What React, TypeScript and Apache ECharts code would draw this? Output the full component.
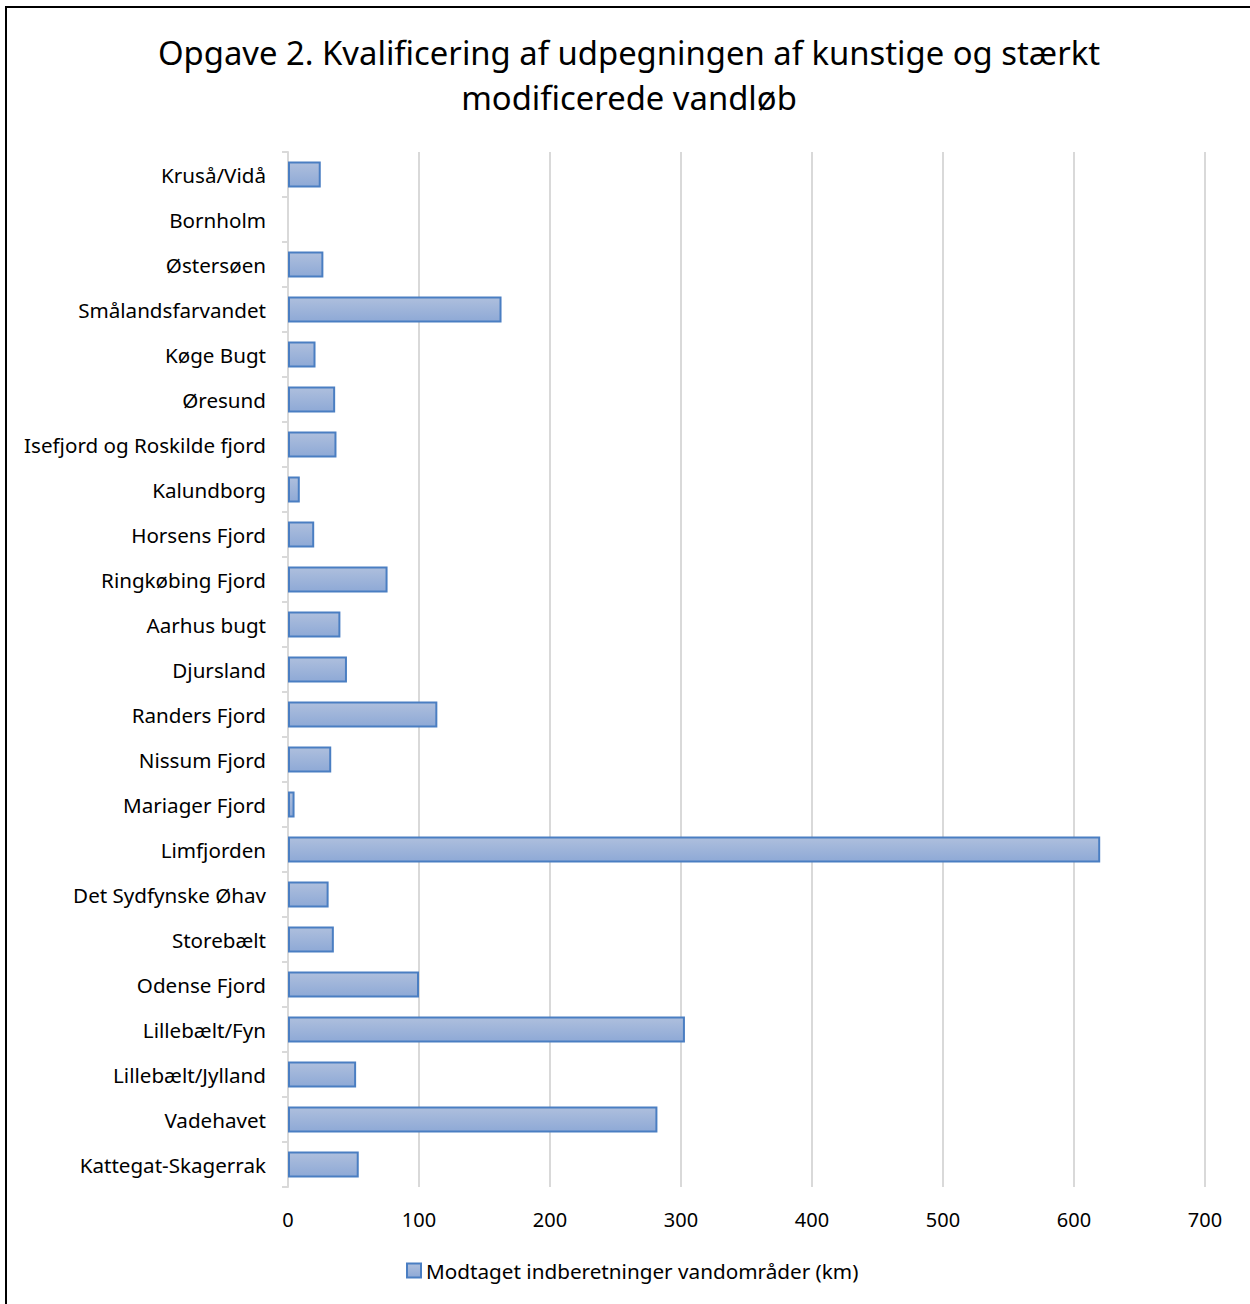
import React, { useEffect, useRef } from "react";
import * as echarts from "echarts";

const categories = [
  "Kruså/Vidå",
  "Bornholm",
  "Østersøen",
  "Smålandsfarvandet",
  "Køge Bugt",
  "Øresund",
  "Isefjord og Roskilde fjord",
  "Kalundborg",
  "Horsens Fjord",
  "Ringkøbing Fjord",
  "Aarhus bugt",
  "Djursland",
  "Randers Fjord",
  "Nissum Fjord",
  "Mariager Fjord",
  "Limfjorden",
  "Det Sydfynske Øhav",
  "Storebælt",
  "Odense Fjord",
  "Lillebælt/Fyn",
  "Lillebælt/Jylland",
  "Vadehavet",
  "Kattegat-Skagerrak",
];

const values = [
  25, 0, 27, 163, 21, 36, 37, 9, 20, 76, 40, 45, 114, 33, 5, 620, 31, 35, 100, 303, 52, 282, 54,
];

const seriesName = "Modtaget indberetninger vandområder (km)";
const titleLines = [
  "Opgave 2. Kvalificering af udpegningen af kunstige og stærkt",
  "modificerede vandløb",
];

const FONT = "'Noto Sans', 'Open Sans', sans-serif";

export default function App() {
  const ref = useRef<HTMLDivElement>(null);
  useEffect(() => {
    document.body.style.margin = "0";
    if (!ref.current) return;
    const chart = echarts.init(ref.current, undefined, { renderer: "svg" });
    const barFill = new echarts.graphic.LinearGradient(0, 0, 0, 1, [
      { offset: 0, color: "#aebfdd" },
      { offset: 1, color: "#8ea9d6" },
    ]);
    chart.setOption({
      animation: false,
      backgroundColor: "#ffffff",
      textStyle: { fontFamily: FONT },
      graphic: [
        {
          type: "rect",
          shape: { x: 6, y: 7, width: 1260, height: 1320 },
          style: { fill: "none", stroke: "#000000", lineWidth: 2 },
          silent: true,
        },
        ...titleLines.map((t, i) => ({
          type: "text",
          x: 629,
          y: 52 + i * 45,
          silent: true,
          style: {
            text: t,
            fill: "#000000",
            font: `32.8px ${FONT}`,
            textAlign: "center",
            textVerticalAlign: "middle",
            verticalAlign: "middle",
          },
        })),
      ],
      legend: {
        top: 1255,
        left: 401,
        itemWidth: 14,
        itemHeight: 14,
        itemGap: 5,
        icon: "rect",
        textStyle: { fontFamily: FONT, fontSize: 20.7, color: "#000000" },
        data: [seriesName],
      },
      grid: { left: 288, right: 45, top: 152, bottom: 117, containLabel: false },
      xAxis: {
        type: "value",
        min: 0,
        max: 700,
        interval: 100,
        axisLine: { show: false },
        axisTick: { show: false },
        axisLabel: { fontFamily: FONT, fontSize: 20, color: "#000000", margin: 22 },
        splitLine: { show: true, lineStyle: { color: "#d9d9d9", width: 2 } },
      },
      yAxis: {
        type: "category",
        inverse: true,
        data: categories,
        axisLine: { show: true, lineStyle: { color: "#d9d9d9", width: 2 } },
        axisTick: { show: true, length: 6, lineStyle: { color: "#d9d9d9", width: 2 } },
        axisLabel: { fontFamily: FONT, fontSize: 20.6, color: "#000000", margin: 22 },
      },
      series: [
        {
          name: seriesName,
          type: "bar",
          data: values.map((v) => ({
            value: v,
            itemStyle: { borderWidth: v === 0 ? 0 : 2 },
          })),
          barCategoryGap: "42%",
          itemStyle: {
            color: barFill,
            borderColor: "#4a7ec2",
            borderWidth: 2,
          },
        },
      ],
    });
    return () => chart.dispose();
  }, []);
  return <div ref={ref} style={{ width: 1250, height: 1304 }} />;
}
